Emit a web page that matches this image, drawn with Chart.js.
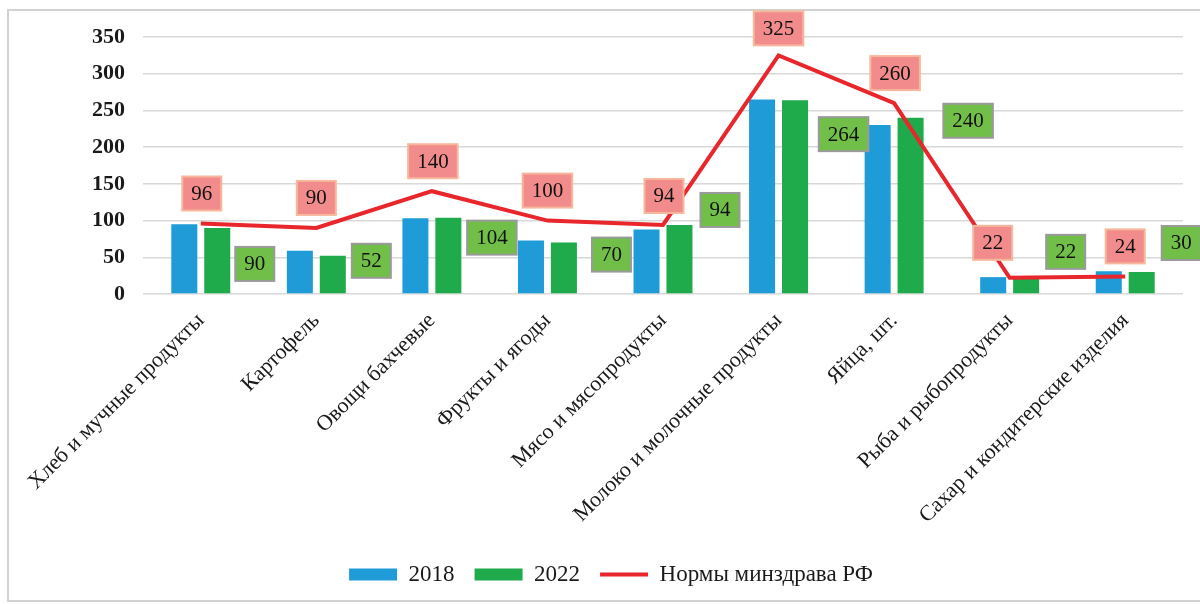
<!DOCTYPE html>
<html>
<head>
<meta charset="utf-8">
<script src="https://cdn.jsdelivr.net/npm/chart.js@4.4.1/dist/chart.umd.min.js"></script>
<style>
  html, body { margin: 0; padding: 0; background: #fff; }
  #wrap { position: relative; width: 1200px; height: 604px; overflow: hidden; }
  #frame { position: absolute; left: 7px; top: 9px; width: 1220px; height: 589px; border: 2px solid #d2d2d2; }
  #chart { position: absolute; left: 0; top: 0; }
</style>
</head>
<body>
<div id="wrap">
  <div id="frame"></div>
  <canvas id="chart" width="1200" height="604"></canvas>
</div>
<script>
const categories = [
  'Хлеб и мучные продукты',
  'Картофель',
  'Овощи бахчевые',
  'Фрукты и ягоды',
  'Мясо и мясопродукты',
  'Молоко и молочные продукты',
  'Яйца, шт.',
  'Рыба и рыбопродукты',
  'Сахар и кондитерские изделия'
];
const values2018 = [95, 59, 103, 73, 88, 265, 230, 23, 31];
const values2022 = [90, 52, 104, 70, 94, 264, 240, 22, 30];
const norms = [96, 90, 140, 100, 94, 325, 260, 22, 24];
const yTicks = [0, 50, 100, 150, 200, 250, 300, 350];

const FONT = '"Liberation Serif", "Times New Roman", serif';
const BLUE = '#1f9cd8';
const GREEN = '#1faa4b';
const RED = '#e8262b';

// value boxes, offsets in px from the point they belong to
const labelBoxes = {
  id: 'labelBoxes',
  afterDatasetsDraw(chart, args, opts) {
    const { ctx, scales: { x, y } } = chart;
    ctx.save();
    ctx.font = '21px ' + FONT;
    ctx.textAlign = 'center';
    ctx.textBaseline = 'middle';
    const box = (text, cx, cy, fill, stroke) => {
      const w = ctx.measureText(text).width + 18, h = 34;
      ctx.fillStyle = fill;
      ctx.fillRect(cx - w / 2, cy - h / 2, w, h);
      ctx.lineWidth = 2;
      ctx.strokeStyle = stroke;
      ctx.strokeRect(cx - w / 2, cy - h / 2, w, h);
      ctx.fillStyle = '#111';
      ctx.fillText(text, cx, cy + 1);
    };
    values2022.forEach((v, i) => {
      const [dx, dy] = opts.greenShift[i];
      box(String(v), x.getPixelForValue(i) + dx, y.getPixelForValue(v) + dy, '#71bf49', '#9a9a9a');
    });
    norms.forEach((v, i) => {
      const [dx, dy] = opts.redShift[i];
      box(String(v), x.getPixelForValue(i) + dx, y.getPixelForValue(v) + dy, '#f28b8b', '#f7b79c');
    });
    ctx.restore();
  }
};

new Chart(document.getElementById('chart'), {
  data: {
    labels: categories,
    datasets: [
      { type: 'bar', label: '2018', data: values2018, backgroundColor: BLUE, order: 2,
        categoryPercentage: 0.57, barPercentage: 0.79 },
      { type: 'bar', label: '2022', data: values2022, backgroundColor: GREEN, order: 2,
        categoryPercentage: 0.57, barPercentage: 0.79 },
      { type: 'line', label: 'Нормы минздрава РФ', data: norms, borderColor: RED, backgroundColor: RED,
        borderWidth: 4, pointRadius: 0, tension: 0, order: 1 }
    ]
  },
  options: {
    responsive: false,
    animation: false,
    devicePixelRatio: 1,
    layout: { padding: { left: 39, right: 17, top: 37, bottom: 8 } },
    scales: {
      x: {
        grid: { display: false },
        border: { display: false },
        ticks: { minRotation: 45, maxRotation: 45, autoSkip: false, padding: 6, color: '#1a1a1a',
          font: { family: FONT, size: 22 } },
        afterFit: s => { s.height = 249; }
      },
      y: {
        min: 0, max: 350,
        afterBuildTicks: s => { s.ticks = yTicks.map(v => ({ value: v })); },
        grid: { color: '#d8d8d8', lineWidth: 1.5, drawTicks: false },
        border: { display: false },
        ticks: { padding: 18, color: '#1a1a1a', font: { family: FONT, size: 22, weight: 'bold' } },
        afterFit: s => { s.width = 104; }
      }
    },
    plugins: {
      tooltip: { enabled: false },
      legend: {
        position: 'bottom',
        labels: {
          usePointStyle: true,
          pointStyleWidth: 48,
          boxHeight: 12,
          padding: 20,
          color: '#1a1a1a',
          font: { family: FONT, size: 23 },
          sort: (a, b) => a.datasetIndex - b.datasetIndex,
          generateLabels(chart) {
            const items = Chart.defaults.plugins.legend.labels.generateLabels(chart);
            items.forEach(it => {
              const ds = chart.data.datasets[it.datasetIndex];
              if (ds.type === 'line') {
                it.pointStyle = 'line';
                it.lineWidth = 4;
                it.strokeStyle = RED;
              } else {
                it.pointStyle = 'rect';
                it.lineWidth = 0;
              }
            });
            return items;
          }
        }
      },
      labelBoxes: {
        greenShift: [[54, 36], [55, 5], [60, 20], [64, 12], [57, -15], [65, 34], [74, 3], [56, -26], [56, -29]],
        redShift: [[1, -30], [0, -30], [1, -30], [0, -30], [1, -29], [0, -27], [1, -30], [-17, -35], [0, -30]]
      }
    }
  },
  plugins: [labelBoxes]
});
</script>
</body>
</html>
